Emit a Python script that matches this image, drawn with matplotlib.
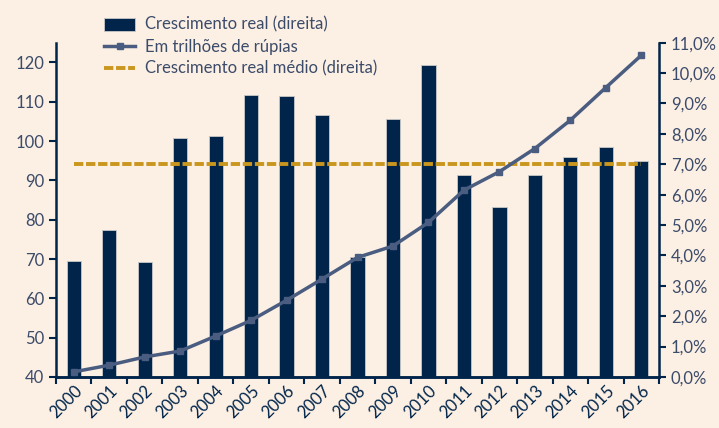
import numpy as np
import matplotlib
matplotlib.use("Agg")
from matplotlib import pyplot as plt
from matplotlib.ticker import FuncFormatter, FixedLocator

years = [str(y) for y in range(2000, 2017)]
trilhoes = [41.3, 43.0, 45.1, 46.6, 50.4, 54.4, 59.5, 64.9, 70.4, 73.3, 79.3,
            87.5, 92.2, 98.1, 105.3, 113.6, 121.8]
crescimento = [3.83, 4.83, 3.80, 7.86, 7.92, 9.29, 9.26, 8.61, 3.94, 8.49, 10.26,
               6.64, 5.61, 6.64, 7.24, 7.56, 7.10]
media = 7.0

bg = '#fcefe3'
navy = '#00244a'
linecol = '#4a5d81'
gold = '#c9961e'
txt = '#3b4b6a'

plt.rcParams['font.family'] = ['Lato', 'DejaVu Sans']

fig = plt.figure(figsize=(7.19, 4.28), dpi=100, facecolor=bg)
ax = fig.add_axes([0.0779, 0.1192, 0.8387, 0.781])  # left axis (trilhoes)
ax.set_facecolor(bg)
ax2 = ax.twinx()  # right axis (crescimento %)

x = np.arange(len(years))

bars = ax2.bar(x, crescimento, width=0.4, color=navy, edgecolor='#c8c8c8', linewidth=0.6,
               label='Crescimento real (direita)', zorder=2)
avg, = ax2.plot(x, [media] * len(x), color=gold, linestyle=(0, (2.4, 0.7)), linewidth=2.8,
                label='Crescimento real médio (direita)', zorder=3)
ln, = ax.plot(x, trilhoes, color=linecol, linewidth=2.5, marker='s', markersize=5,
              label='Em trilhões de rúpias', zorder=4)

# line must sit over the bars
ax.set_zorder(ax2.get_zorder() + 1)
ax.patch.set_visible(False)
ax2.patch.set_visible(True)
ax2.patch.set_facecolor(bg)

ax.set_xlim(-0.5, len(years) - 0.5)
ax.set_ylim(40, 125)
ax2.set_ylim(0, 11)
ax.set_yticks(np.arange(40, 121, 10))
ax2.set_yticks(np.arange(0, 11.1, 1))
ax2.yaxis.set_major_formatter(FuncFormatter(lambda v, p: f'{v:.1f}%'.replace('.', ',')))

ax.set_xticks(x)
ax.set_xticklabels(years, rotation=45, ha='right', rotation_mode='anchor', fontsize=12, color=navy)
ax.tick_params(axis='x', which='major', length=0, pad=4)
ax.xaxis.set_minor_locator(FixedLocator(np.arange(-0.5, len(years), 1)))
ax.tick_params(axis='x', which='minor', length=5, width=1.5, color=navy)

for a in (ax, ax2):
    a.spines['top'].set_visible(False)
    for s in ('left', 'right', 'bottom'):
        a.spines[s].set_color(navy)
        a.spines[s].set_linewidth(1.8)
ax.spines['right'].set_visible(False)
ax2.spines['left'].set_visible(False)

ax.tick_params(axis='y', length=5, width=1.5, color=navy, labelsize=12, labelcolor=txt)
ax2.tick_params(axis='y', length=5, width=1.5, color=navy, labelsize=12, labelcolor=txt)

fig.legend(handles=[bars, ln, avg], loc='upper left', bbox_to_anchor=(0.128, 0.988),
           frameon=False, fontsize=12, labelcolor=txt, handlelength=1.9, handleheight=0.8,
           handletextpad=0.6, labelspacing=0.35, borderaxespad=0.3)

fig.savefig('out.png', dpi=100, facecolor=bg)
